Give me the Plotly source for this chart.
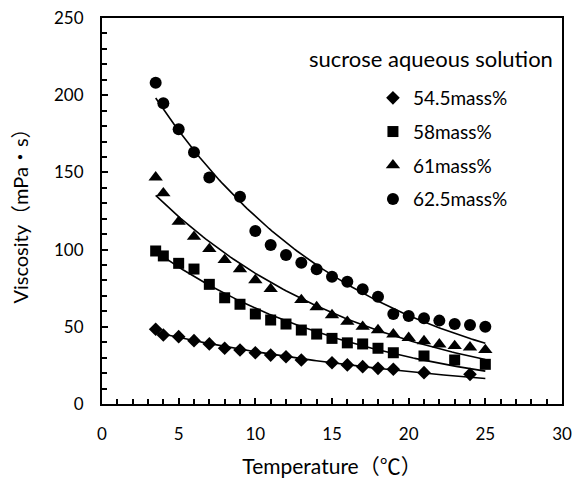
import numpy as np
import plotly.graph_objects as go

# Data
x_545 = [3.5, 4, 5, 6, 7, 8, 9, 10, 11, 12, 13, 15, 16, 17, 18, 19, 21, 24]
y_545 = [48.4, 44.7, 43.6, 41.0, 38.9, 36.1, 35.0, 33.2, 31.7, 30.6, 28.5, 26.7, 25.3, 24.2, 23.1, 22.5, 20.3, 19.2]

x_58 = [3.5, 4, 5, 6, 7, 8, 9, 10, 11, 12, 13, 14, 15, 16, 17, 18, 19, 21, 23, 25]
y_58 = [99.1, 95.9, 91.1, 87.4, 77.5, 68.8, 64.6, 58.3, 54.4, 51.8, 47.9, 45.3, 42.5, 39.6, 38.9, 36.1, 33.2, 31.1, 28.5, 25.7]

x_61 = [3.5, 4, 5, 6, 7, 8, 9, 10, 11, 13, 14, 15, 16, 17, 18, 19, 20, 21, 22, 23, 24, 25]
y_61 = [146.8, 136.5, 118.1, 108.4, 100.4, 93.3, 87.4, 80.3, 74.5, 67.4, 62.8, 57.6, 53.3, 50.1, 47.9, 45.1, 42.9, 40.8, 38.7, 37.6, 36.7, 35.0]

x_625 = [3.5, 4, 5, 6, 7, 9, 10, 11, 12, 13, 14, 15, 16, 17, 18, 19, 20, 21, 22, 23, 24, 25]
y_625 = [208.1, 194.8, 177.9, 163.0, 146.7, 134.3, 112.0, 103.0, 96.5, 91.5, 87.3, 82.4, 79.2, 74.3, 69.5, 58.3, 57.0, 55.5, 54.0, 51.8, 51.2, 50.1]

series = [
    ("54.5mass%", x_545, y_545, "diamond", 10.5),
    ("58mass%", x_58, y_58, "square", 11),
    ("61mass%", x_61, y_61, "triangle-up", 12.5),
    ("62.5mass%", x_625, y_625, "circle", 12),
]

FONT = "Lato, 'Noto Sans CJK JP', sans-serif"


def exp_fit(xs, ys):
    """Least-squares fit of y = a*exp(b*x) (Gauss-Newton, started from log fit)."""
    x = np.asarray(xs, float)
    y = np.asarray(ys, float)
    b, la = np.polyfit(x, np.log(y), 1)
    a = np.exp(la)
    for _ in range(50):
        e = np.exp(b * x)
        f = a * e
        r = y - f
        J = np.column_stack([e, a * x * e])
        step, *_ = np.linalg.lstsq(J, r, rcond=None)
        a += step[0]
        b += step[1]
        if np.all(np.abs(step) < 1e-10):
            break
    return a, b


fig = go.Figure()
for i, (name, xs, ys, sym, sz) in enumerate(series):
    a, b = exp_fit(xs, ys)
    xf = np.linspace(3.5, 25, 120)
    yf = a * np.exp(b * xf)
    fig.add_trace(go.Scatter(x=xf, y=yf, mode="lines",
                             line=dict(color="black", width=1.6),
                             showlegend=False, hoverinfo="skip"))
    fig.add_trace(go.Scatter(x=xs, y=ys, mode="markers", name=name,
                             legendgroup=f"g{i}",
                             marker=dict(symbol=sym, size=sz, color="black",
                                         line=dict(width=0))))

axis_common = dict(
    showline=True, linecolor="black", linewidth=2, mirror=True,
    ticks="inside", ticklen=6, tickwidth=2, tickcolor="black",
    showgrid=False, zeroline=False, automargin=False,
    tickfont=dict(family=FONT, size=17, color="black"),
)

fig.update_xaxes(range=[0, 30], dtick=5, tick0=0,
                 minor=dict(dtick=1, ticks="inside", ticklen=5, tickwidth=2, tickcolor="black"),
                 title=dict(text="Temperature（℃）", font=dict(family=FONT, size=21, color="black"), standoff=16),
                 ticklabelstandoff=14,
                 **axis_common)
fig.update_yaxes(range=[0, 250], dtick=50, tick0=0,
                 minor=dict(dtick=10, ticks="inside", ticklen=5, tickwidth=2, tickcolor="black"),
                 title=dict(text="Viscosity（mPa・s）", font=dict(family=FONT, size=20, color="black"), standoff=20),
                 ticklabelstandoff=13,
                 **axis_common)

fig.add_annotation(text="sucrose aqueous solution", xref="paper", yref="paper",
                   x=0.445, y=0.896, xanchor="left", yanchor="middle", showarrow=False,
                   font=dict(family=FONT, size=22, color="black"))

fig.update_layout(
    width=575, height=479,
    margin=dict(l=102, r=13, t=18, b=75),
    paper_bgcolor="white", plot_bgcolor="white",
    legend=dict(x=0.589, y=0.842, xanchor="left", yanchor="top",
                font=dict(family=FONT, size=19, color="black"),
                tracegroupgap=6, itemwidth=30, bgcolor="rgba(0,0,0,0)"),
)

fig.write_html("out.html")
